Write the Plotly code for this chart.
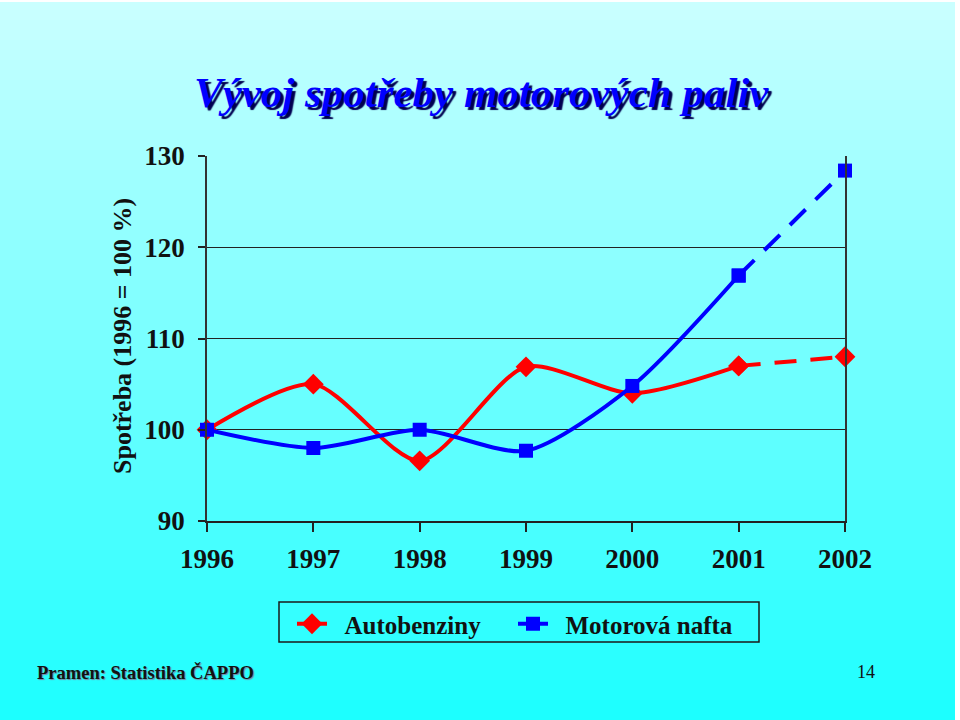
import plotly.graph_objects as go

years = [1996, 1997, 1998, 1999, 2000, 2001, 2002]
autobenziny = [100.0, 105.0, 96.6, 106.9, 104.0, 107.0, 108.0]
nafta = [100.0, 98.0, 100.0, 97.7, 104.8, 116.9, 128.4]
series_names = ["Autobenziny", "Motorová nafta"]
tick_years = [str(y) for y in years]
y_ticks = [90, 100, 110, 120, 130]

W, H = 960, 720
L, R, T, B = 207, 845, 156, 521
PW, PH = R - L, B - T

def px(x):
    return (x - L) / PW

def py(y):
    return (B - y) / PH

SERIF = "Liberation Serif, Times New Roman, serif"
LW = 4
SM = 0.75
PAD = "\u00a0\u00a0"

fig = go.Figure()

# solid part 1996-2001, dashed 2001-2002
fig.add_trace(go.Scatter(x=years[:6], y=autobenziny[:6], mode="lines+markers",
                         name=PAD + series_names[0], line=dict(color="#ff0000", width=LW, shape="spline", smoothing=SM),
                         marker=dict(symbol="diamond", size=16, color="#ff0000"), cliponaxis=False,
                         legendgroup="a"))
fig.add_trace(go.Scatter(x=years[5:], y=autobenziny[5:], mode="lines+markers", showlegend=False,
                         line=dict(color="#ff0000", width=LW, dash="22px,14px"),
                         marker=dict(symbol="diamond", size=16, color="#ff0000"), cliponaxis=False,
                         legendgroup="a"))
fig.add_trace(go.Scatter(x=years[:6], y=nafta[:6], mode="lines+markers",
                         name=PAD + series_names[1], line=dict(color="#0000ff", width=LW, shape="spline", smoothing=SM),
                         marker=dict(symbol="square", size=14, color="#0000ff"), cliponaxis=False,
                         legendgroup="b"))
fig.add_trace(go.Scatter(x=years[5:], y=nafta[5:], mode="lines+markers", showlegend=False,
                         line=dict(color="#0000ff", width=LW, dash="22px,14px"),
                         marker=dict(symbol="square", size=14, color="#0000ff"), cliponaxis=False,
                         legendgroup="b"))

# gradient background
shapes = []
n = 72
top = (202, 255, 255)
bot = (28, 255, 255)
for i in range(n):
    y0 = i * H / n
    y1 = (i + 1) * H / n + 1
    t = i / (n - 1)
    c = tuple(int(round(top[k] + (bot[k] - top[k]) * t)) for k in range(3))
    shapes.append(dict(type="rect", xref="paper", yref="paper", x0=px(0), x1=px(W), y0=py(y1), y1=py(y0),
                       fillcolor="rgb(%d,%d,%d)" % c, line=dict(width=0), layer="below"))
# white edges
shapes.append(dict(type="rect", xref="paper", yref="paper", x0=px(955), x1=px(W), y0=py(H), y1=py(0),
                   fillcolor="white", line=dict(width=0), layer="below"))
shapes.append(dict(type="rect", xref="paper", yref="paper", x0=px(0), x1=px(W), y0=py(2), y1=py(0),
                   fillcolor="white", line=dict(width=0), layer="below"))
# legend box
shapes.append(dict(type="rect", xref="paper", yref="paper", x0=px(279), x1=px(759), y0=py(642), y1=py(602),
                   fillcolor="rgba(0,0,0,0)", line=dict(color="#1a1a1a", width=1.5)))

annotations = [
    dict(text="<b><i>Vývoj spotřeby motorových paliv</i></b>", xref="paper", yref="paper",
         x=px(481), y=py(93), xanchor="center", yanchor="middle", showarrow=False,
         font=dict(family=SERIF, size=43, color="#0000ff", shadow="3px 3px 1px #000050")),
    dict(text="<b>Spotřeba (1996 = 100 %)</b>", xref="paper", yref="paper",
         x=px(122), y=py(336), xanchor="center", yanchor="middle", showarrow=False, textangle=-90,
         font=dict(family=SERIF, size=26, color="#111111")),
    dict(text="<b>Pramen: Statistika ČAPPO</b>", xref="paper", yref="paper",
         x=px(35), y=py(672), xanchor="left", yanchor="middle", showarrow=False,
         font=dict(family=SERIF, size=18.5, color="#111111", shadow="1px 1px 1px #8080a0")),
    dict(text="14", xref="paper", yref="paper",
         x=px(866), y=py(672), xanchor="center", yanchor="middle", showarrow=False,
         font=dict(family=SERIF, size=18, color="#111111")),
]

fig.update_layout(
    width=W, height=H,
    margin=dict(l=L, r=W - R, t=T, b=H - B),
    paper_bgcolor="#7ff",
    plot_bgcolor="rgba(0,0,0,0)",
    shapes=shapes,
    annotations=annotations,
    showlegend=True,
    legend=dict(orientation="h", x=px(292), y=py(601), xanchor="left", yanchor="top",
                bgcolor="rgba(0,0,0,0)", borderwidth=0,
                font=dict(family=SERIF, size=25, color="#111111", weight="bold"),
                entrywidth=176, entrywidthmode="pixels", tracegroupgap=0),
    xaxis=dict(range=[1996, 2002], tickmode="array", tickvals=years, ticktext=tick_years,
               showgrid=False, zeroline=False, showline=True, linecolor="#222222", linewidth=1.5,
               mirror=False, ticks="outside", ticklen=9, tickwidth=1.5, tickcolor="#222222",
               tickfont=dict(family=SERIF, size=27, color="#111111", weight="bold"),
               ticklabelstandoff=4),
    yaxis=dict(range=[90, 130], tickmode="array", tickvals=y_ticks, ticktext=[str(v) for v in y_ticks],
               showgrid=True, gridcolor="#222222", gridwidth=1.2, zeroline=False,
               showline=True, linecolor="#333333", linewidth=1.5, mirror=True,
               ticks="outside", ticklen=7, tickwidth=1.5, tickcolor="#222222",
               tickfont=dict(family=SERIF, size=27, color="#111111", weight="bold"),
               ticklabelstandoff=8),
)

fig.write_html("out.html", config={"displayModeBar": False},
               post_script="document.body.style.margin='0';")
